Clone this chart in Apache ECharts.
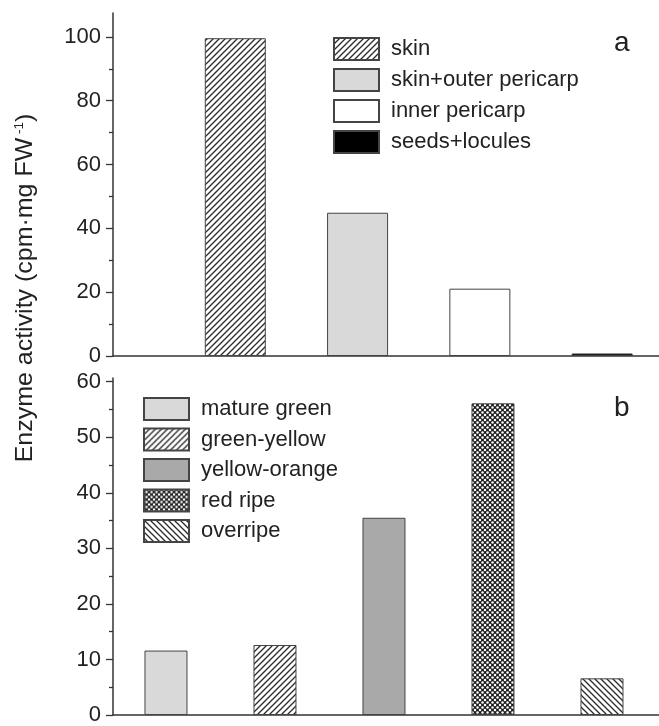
<!DOCTYPE html>
<html>
<head>
<meta charset="utf-8">
<script src="https://cdn.jsdelivr.net/npm/echarts@6/dist/echarts.min.js"></script>
<style>html,body{margin:0;padding:0;background:#fff}#c{width:659px;height:726px}</style>
</head>
<body>
<div id="c"></div>
<script>
// ---- data ----
const tissueNames = ['skin', 'skin+outer pericarp', 'inner pericarp', 'seeds+locules'];
const tissueValues = [99.6, 44.9, 21.1, 0.8];
const stageNames = ['mature green', 'green-yellow', 'yellow-orange', 'red ripe', 'overripe'];
const stageValues = [11.6, 12.6, 35.5, 56.1, 6.6];
const topTicks = [0, 20, 40, 60, 80, 100];
const topMinor = [10, 30, 50, 70, 90];
const botTicks = [0, 10, 20, 30, 40, 50, 60];
const botMinor = [5, 15, 25, 35, 45, 55];

// ---- patterns ----
function hatch(dir) {
  const n = 6, c = document.createElement('canvas');
  c.width = n; c.height = n;
  const g = c.getContext('2d');
  g.fillStyle = '#fff'; g.fillRect(0, 0, n, n);
  g.strokeStyle = '#2a2a2a'; g.lineWidth = 1.3;
  g.beginPath();
  if (dir > 0) {
    g.moveTo(0, n); g.lineTo(n, 0);
    g.moveTo(-n, n); g.lineTo(n, -n);
    g.moveTo(0, 2 * n); g.lineTo(2 * n, 0);
  } else {
    g.moveTo(0, 0); g.lineTo(n, n);
    g.moveTo(-n, 0); g.lineTo(n, 2 * n);
    g.moveTo(0, -n); g.lineTo(2 * n, n);
  }
  g.stroke();
  return { image: c, repeat: 'repeat' };
}
function dots() {
  const n = 5, c = document.createElement('canvas');
  c.width = n; c.height = n;
  const g = c.getContext('2d');
  g.fillStyle = '#1e1e1e'; g.fillRect(0, 0, n, n);
  g.fillStyle = '#fff';
  const pts = [[0, 0], [n, 0], [0, n], [n, n], [n / 2, n / 2]];
  pts.forEach(p => { g.beginPath(); g.arc(p[0], p[1], 1.25, 0, Math.PI * 2); g.fill(); });
  return { image: c, repeat: 'repeat' };
}
const tissueFills = [hatch(1), '#d9d9d9', '#ffffff', '#000000'];
const stageFills = ['#d9d9d9', hatch(1), '#a9a9a9', dots(), hatch(-1)];

const FONT = '"Liberation Sans", Arial, sans-serif';
const axisColor = '#333';

function yAxes(gridIndex, max, major, minor) {
  return [{
    type: 'value', gridIndex, min: 0, max, interval: major[1] - major[0],
    axisLine: { show: true, lineStyle: { color: axisColor, width: 1.5 } },
    axisTick: { show: true, length: 7, customValues: major, lineStyle: { color: axisColor, width: 1.3 } },
    axisLabel: { customValues: major, margin: 12, fontSize: 22, color: '#222', fontFamily: FONT },
    splitLine: { show: false }
  }, {
    type: 'value', gridIndex, min: 0, max, position: 'left',
    axisLine: { show: false },
    axisTick: { show: true, length: 4, customValues: minor, lineStyle: { color: axisColor, width: 1.3 } },
    axisLabel: { show: false },
    splitLine: { show: false }
  }];
}
function xAxis(gridIndex, min, max) {
  return {
    type: 'value', gridIndex, min, max,
    axisLine: { show: true, onZero: false, lineStyle: { color: axisColor, width: 1.5 } },
    axisTick: { show: false }, axisLabel: { show: false }, splitLine: { show: false }
  };
}

const series = [];
tissueNames.forEach((name, i) => {
  series.push({
    type: 'bar', name, xAxisIndex: 0, yAxisIndex: 0, barWidth: 61, barGap: '-100%',
    itemStyle: { color: tissueFills[i], borderColor: '#444', borderWidth: 1 },
    data: [[i + 1, tissueValues[i]]], animation: false
  });
});
stageNames.forEach((name, i) => {
  series.push({
    type: 'bar', name, xAxisIndex: 1, yAxisIndex: 2, barWidth: 43, barGap: '-100%',
    itemStyle: { color: stageFills[i], borderColor: '#444', borderWidth: 1 },
    data: [[i + 1, stageValues[i]]], animation: false
  });
});

const legendCommon = {
  orient: 'vertical', icon: 'rect', itemWidth: 45, itemHeight: 22, padding: 0,
  selectedMode: false,
  textStyle: { fontSize: 22, lineHeight: 22, color: '#222', fontFamily: FONT, padding: [0, 0, 0, 7] }
};

const chart = echarts.init(document.getElementById('c'), null, { renderer: 'canvas' });
chart.setOption({
  animation: false,
  backgroundColor: '#fff',
  grid: [
    { left: 113, right: 0, top: 13, height: 343 },
    { left: 113, right: 0, top: 378, height: 340 }
  ],
  xAxis: [xAxis(0, 0, 4.465), xAxis(1, 0.514, 5.523)],
  yAxis: [...yAxes(0, 107.5, topTicks, topMinor), ...yAxes(1, 60.66, botTicks, botMinor)],
  legend: [
    Object.assign({ data: tissueNames, left: 333, top: 37, itemGap: 7 }, legendCommon),
    Object.assign({ data: stageNames, left: 143, top: 397, itemGap: 6.5 }, legendCommon)
  ],
  graphic: [
    { type: 'text', left: 614, top: 29, style: { text: 'a', fontSize: 28, fill: '#222', fontFamily: FONT } },
    { type: 'text', left: 614, top: 394, style: { text: 'b', fontSize: 28, fill: '#222', fontFamily: FONT } },
    {
      type: 'text', x: 25, y: 288, rotation: Math.PI / 2, scaleX: 1.04,
      style: {
        text: 'Enzyme activity (cpm·mg FW{s| -1})', fontSize: 24, fill: '#222', fontFamily: FONT,
        align: 'center', verticalAlign: 'middle',
        rich: { s: { fontSize: 13, fontFamily: FONT, fill: '#222', verticalAlign: 'top', padding: [0, 0, 12, 0] } }
      }
    }
  ],
  series
});
</script>
</body>
</html>
